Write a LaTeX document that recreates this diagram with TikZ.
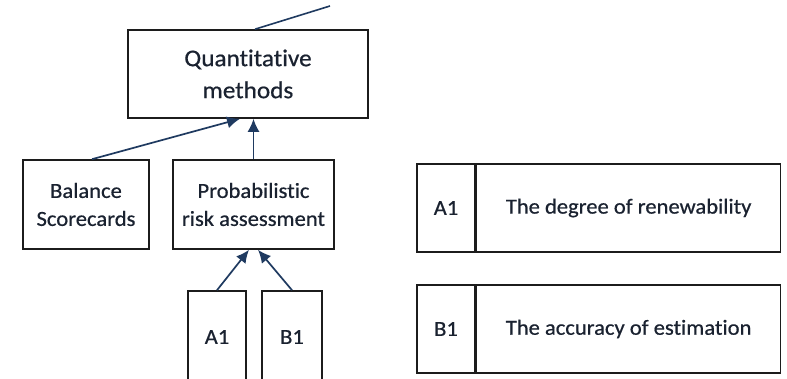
\documentclass[tikz,border=0pt]{standalone}
\usepackage{fontspec}
\setmainfont{Carlito}[FakeStretch=1.05,FakeBold=0.6,Ligatures=NoCommon]
\usetikzlibrary{arrows.meta}
\definecolor{ink}{HTML}{1A2230}
\definecolor{wire}{HTML}{1F3A60}
\definecolor{frame}{HTML}{1C1C1C}
\begin{document}
\begin{tikzpicture}[x=1pt,y=-1pt,
  box/.style={draw=frame,line width=1.6pt,fill=white,rectangle,inner sep=0pt,
    align=center,text=ink,font=\fontsize{21.5}{28}\selectfont},
  arr/.style={draw=wire,line width=1.7pt,-{Latex[length=13pt,width=12pt]}}]
\useasboundingbox (0,0) rectangle (787,379);
\fill[white] (0,0) rectangle (787,379);
\clip (0,0) rectangle (787,379);

% hierarchy
\node[box,minimum width=240pt,minimum height=88pt,
  font=\fontsize{24}{32}\selectfont] (qm) at (248,74) {Quantitative\\methods};
\node[box,minimum width=126pt,minimum height=89pt] (bal) at (86,204.5) {Balance\\Scorecards};
\node[box,minimum width=161pt,minimum height=89pt] (pra) at (253.5,204.5) {Probabilistic\\risk assessment};
\node[box,minimum width=58pt,minimum height=92pt] (a1) at (217,337) {A1};
\node[box,minimum width=60pt,minimum height=92pt] (b1) at (292,337) {B1};

% upward link leaving the picture
\coordinate (up) at (330,6);
\draw[wire,line width=1.6pt] ([xshift=7pt]qm.north) -- (up);

% connectors
\draw[arr] ([xshift=6pt]bal.north) -- ([xshift=-8pt]qm.south);
\draw[arr] (pra.north) -- (pra.north |- qm.south);
\draw[arr] (a1.north) -- ([xshift=-4.5pt]pra.south);
\draw[arr] (b1.north) -- ([xshift=4.5pt]pra.south);

% legend
\node[box,minimum width=58pt,minimum height=88pt] (ka) at (446,208) {A1};
\node[box,minimum width=304pt,minimum height=88pt,anchor=west] (va) at (ka.east) {The degree of renewability};
\node[box,minimum width=58pt,minimum height=88pt] (kb) at (446,329) {B1};
\node[box,minimum width=304pt,minimum height=88pt,anchor=west] (vb) at (kb.east) {The accuracy of estimation};
\end{tikzpicture}
\end{document}
